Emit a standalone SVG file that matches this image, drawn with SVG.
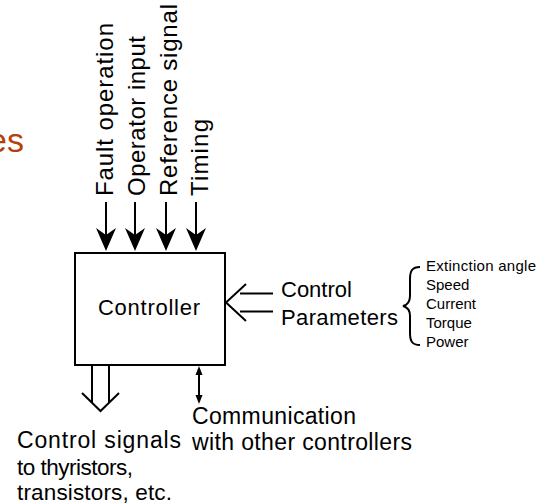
<svg xmlns="http://www.w3.org/2000/svg" width="553" height="504" viewBox="0 0 553 504">
<style>
.t{font-family:"Liberation Sans",Arial,sans-serif;fill:#000}
.ln{stroke:#000;stroke-width:2;fill:none}
.hd{fill:#000;stroke:none}
</style>
<rect width="553" height="504" fill="#fff"/>
<text x="24" y="152" text-anchor="end" style="font-family:'Liberation Sans',Arial,sans-serif;font-size:34px;fill:#B4400F">es</text>
<g id="inputs">
<text class="t" font-size="24" transform="translate(113,196) rotate(-90)" textLength="173" lengthAdjust="spacing">Fault operation</text>
<text class="t" font-size="24" transform="translate(145,196) rotate(-90)" textLength="160" lengthAdjust="spacing">Operator input</text>
<text class="t" font-size="24" transform="translate(177,196) rotate(-90)" textLength="192" lengthAdjust="spacing">Reference signal</text>
<text class="t" font-size="24" transform="translate(208,196) rotate(-90)" textLength="77" lengthAdjust="spacing">Timing</text>
</g>
<g id="controller">
<rect x="75" y="253" width="150" height="112" fill="#fff" stroke="#000" stroke-width="2"/>
<text class="t" x="98" y="315" font-size="22" textLength="102" lengthAdjust="spacing">Controller</text>
</g>
<g id="control-parameters">
<text class="t" x="281" y="297" font-size="22">Control</text>
<text class="t" x="281" y="325" font-size="22" textLength="117" lengthAdjust="spacing">Parameters</text>
<path class="ln" d="M420,267 C412,267 410,271 410,279 L410,296 C410,302 407,305 403,306 C407,307 410,310 410,316 L410,333 C410,341 412,345 420,345"/>
<text class="t" x="426" y="271" font-size="15" textLength="110" lengthAdjust="spacing">Extinction angle</text>
<text class="t" x="426" y="290" font-size="15">Speed</text>
<text class="t" x="426" y="309" font-size="15">Current</text>
<text class="t" x="426" y="328" font-size="15">Torque</text>
<text class="t" x="426" y="347" font-size="15">Power</text>
</g>
<g id="outputs">
<text class="t" x="17" y="448" font-size="23" textLength="164" lengthAdjust="spacing">Control signals</text>
<text class="t" x="17" y="475" font-size="22.5" textLength="116" lengthAdjust="spacing">to thyristors,</text>
<text class="t" x="17" y="500" font-size="22.5" textLength="155" lengthAdjust="spacing">transistors, etc.</text>
</g>
<g id="communication">
<text class="t" x="192" y="424" font-size="23" textLength="164" lengthAdjust="spacing">Communication</text>
<text class="t" x="192" y="450" font-size="23" textLength="220" lengthAdjust="spacing">with other controllers</text>
</g>
<g id="connectors">
<line class="ln" x1="106" y1="202" x2="106" y2="236"/>
<path class="hd" d="M96,228 L106,235 L116,228 L106,251 Z"/>
<line class="ln" x1="135" y1="202" x2="135" y2="236"/>
<path class="hd" d="M125,228 L135,235 L145,228 L135,251 Z"/>
<line class="ln" x1="166" y1="202" x2="166" y2="236"/>
<path class="hd" d="M156,228 L166,235 L176,228 L166,251 Z"/>
<line class="ln" x1="196" y1="202" x2="196" y2="236"/>
<path class="hd" d="M186,228 L196,235 L206,228 L196,251 Z"/>
<line class="ln" x1="240" y1="293.5" x2="273" y2="293.5"/>
<line class="ln" x1="240" y1="311.5" x2="273" y2="311.5"/>
<polyline class="ln" points="246,284 226,302.5 246,321"/>
<line class="ln" x1="92" y1="366" x2="92" y2="403"/>
<line class="ln" x1="109" y1="366" x2="109" y2="403"/>
<polyline class="ln" points="82,393 100.5,411 119,393"/>
<line class="ln" x1="199" y1="370" x2="199" y2="400"/>
<path class="hd" d="M195.5,375 L199,366 L202.5,375 Z"/>
<path class="hd" d="M195.5,395 L199,404 L202.5,395 Z"/>
</g>
</svg>
